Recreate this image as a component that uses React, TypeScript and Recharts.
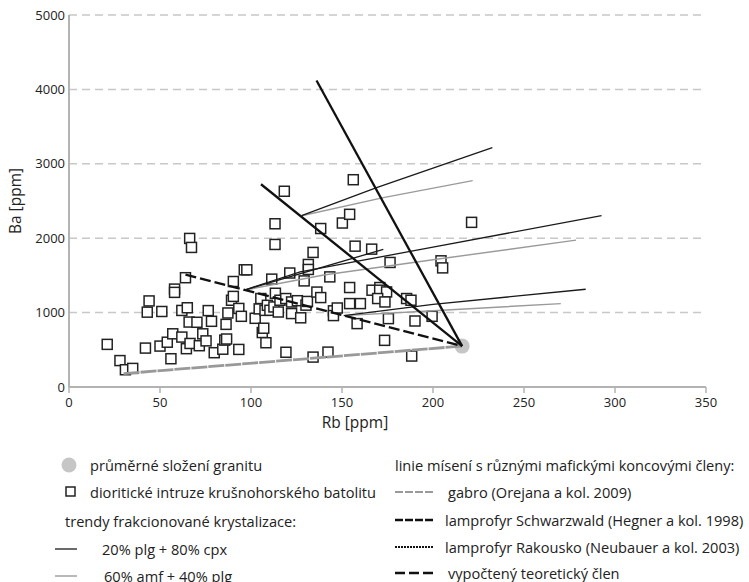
import React from 'react';
import { ScatterChart, Scatter, XAxis, YAxis, CartesianGrid } from 'recharts';

// Rb [ppm] vs Ba [ppm]
const xTicks = [0, 50, 100, 150, 200, 250, 300, 350];
const yTicks = [0, 1000, 2000, 3000, 4000, 5000];

const granite = [{ rb: 216, ba: 550 }];

// diorite intrusions, [Rb, Ba]
const diorites: [number, number][] = [
  [21, 573], [28, 355], [31, 232], [35, 250], [42, 523], [43, 1006], [44, 1157],
  [50, 550], [51, 1015], [54, 602], [56, 380], [57, 715], [58, 1316], [58, 1272],
  [62, 1029], [62, 671], [64, 1469], [65, 1065], [64.5, 515], [66, 873], [66.3, 1997],
  [67.3, 1876], [66.5, 585], [70.3, 870], [71.6, 555], [73.5, 715], [75.3, 620],
  [76.5, 1027], [78.3, 883], [79.8, 461], [84.5, 508], [85.6, 630], [86.6, 645],
  [86.3, 842], [87.3, 995], [89.3, 1166], [90.3, 1218], [90.3, 1418], [93.3, 1056],
  [93.3, 505], [94.7, 950], [96.3, 1575], [97.7, 1575], [102.3, 923], [104.5, 1050],
  [105.4, 1189], [106.2, 732], [107, 790], [108.2, 595], [107.7, 1030], [109, 1098],
  [110.4, 1031], [111.4, 1450], [112.6, 1076], [113.2, 2194], [113.2, 1916],
  [113.4, 1260], [115, 1008], [115.9, 1166], [118.3, 2631], [119.1, 1189], [119.2, 467],
  [121.3, 1532], [122.3, 1143], [122.3, 987], [125.5, 1160], [127.3, 930], [129.2, 1426],
  [130.2, 1100], [131, 1150], [131.5, 1647], [131.5, 1580], [134.1, 1809], [134.1, 402],
  [136.2, 1276], [138.3, 1202], [138.3, 2130], [142.3, 469], [143.3, 1480], [145.3, 1024],
  [145.3, 960], [147.4, 1062], [150.2, 2204], [154.2, 2321], [154.2, 1337], [154.2, 1121],
  [156.2, 2786], [157.2, 1893], [158.3, 852], [160.1, 1121], [166.3, 1853], [166.5, 1301],
  [170.8, 1337], [170.7, 1301], [174.5, 1278], [169.6, 1189], [173.6, 1143], [176.4, 1674],
  [175.5, 919], [173.4, 627], [185.5, 1189], [187.9, 1166], [188.3, 416], [190.1, 887],
  [199.5, 950], [204.4, 1696], [205.3, 1601], [221.2, 2213],
];

// mixing lines towards the granite
const gabroLine: [number, number][] = [[30, 180], [216, 550]];
const schwarzwaldLine: [number, number][] = [[136, 4120], [216, 550]];
const rakouskoLine: [number, number][] = [[105.5, 2725], [216, 550]];
const theoreticLine: [number, number][] = [[64, 1510], [216, 550]];

// fractional crystallisation trends
const cpxTrends: [number, number][][] = [
  [[127.8, 2302], [169, 2680], [232.6, 3218]],
  [[96, 1300], [127, 1547], [200, 1880], [292.6, 2302]],
  [[96, 1300], [172.7, 1850]],
  [[151, 960], [200, 1110], [283.9, 1314]],
];
const amfTrends: [number, number][][] = [
  [[127.8, 2302], [172.7, 2545], [221.8, 2774]],
  [[96, 1300], [140, 1505], [200, 1710], [278.6, 1974]],
  [[151, 960], [200, 1025], [270.2, 1121]],
];

const toPts = (arr: [number, number][]) => arr.map(([rb, ba]) => ({ rb, ba }));

const FONT = '"Open Sans", "DejaVu Sans", sans-serif';
const AXIS = '#b3b3b3';

const NoDot = () => <g />;

const SquareDot = (props: any) => {
  const { cx, cy } = props;
  if (cx == null || cy == null) return <g />;
  return <rect x={cx - 5} y={cy - 5} width={10} height={10} fill="#fff" stroke="#222" strokeWidth={1.5} />;
};

const GraniteDot = (props: any) => {
  const { cx, cy } = props;
  return <circle cx={cx} cy={cy} r={7.5} fill="#c6c6c6" />;
};

const lineSeries = (pts: [number, number][], key: string, stroke: string, width: number, dash?: string) => (
  <Scatter
    key={key}
    data={toPts(pts)}
    shape={NoDot}
    line={{ stroke, strokeWidth: width, strokeDasharray: dash }}
    isAnimationActive={false}
  />
);

const textStyle: React.CSSProperties = {
  position: 'absolute',
  fontFamily: FONT,
  fontSize: 14.6,
  color: '#222',
  whiteSpace: 'nowrap',
  lineHeight: '14px',
};

const Swatch = ({ len, stroke, width, dash }: { len: number; stroke: string; width: number; dash?: string }) => (
  <svg width={len} height={6} style={{ position: 'absolute' }}>
    <line x1={0} y1={3} x2={len} y2={3} stroke={stroke} strokeWidth={width} strokeDasharray={dash} />
  </svg>
);

export default function App() {
  return (
    <div style={{ position: 'absolute', left: 0, top: 0, width: 749, height: 582, background: '#fff', overflow: 'hidden' }}>
      <ScatterChart width={749} height={432} margin={{ top: 15, right: 43, bottom: 10, left: 0 }}>
        <CartesianGrid horizontal vertical={false} stroke="#c8c8c8" strokeWidth={1.5} strokeDasharray="8 5" />
        <XAxis
          type="number"
          dataKey="rb"
          domain={[0, 350]}
          ticks={xTicks}
          height={35}
          axisLine={{ stroke: AXIS, strokeWidth: 2 }}
          tickLine={{ stroke: AXIS, strokeWidth: 1.5 }}
          tickSize={6}
          tickMargin={5}
          tick={{ fontFamily: FONT, fontSize: 13, fill: '#222' }}
        />
        <YAxis
          type="number"
          dataKey="ba"
          domain={[0, 5000]}
          ticks={yTicks}
          width={69}
          axisLine={{ stroke: AXIS, strokeWidth: 2 }}
          tickLine={false}
          tickSize={0}
          tickMargin={4}
          tick={{ fontFamily: FONT, fontSize: 13, fill: '#222' }}
        />
        <Scatter data={toPts(diorites)} shape={SquareDot} isAnimationActive={false} />
        <Scatter data={granite} shape={GraniteDot} isAnimationActive={false} />
        {lineSeries(gabroLine, 'gabro', '#999', 2.8, '16 1')}
        {amfTrends.map((t, i) => lineSeries(t, 'amf' + i, '#9a9a9a', 1.4))}
        {cpxTrends.map((t, i) => lineSeries(t, 'cpx' + i, '#1a1a1a', 1.3))}
        {lineSeries(schwarzwaldLine, 'schw', '#111', 2.3)}
        {lineSeries(rakouskoLine, 'rak', '#111', 2.3)}
        {lineSeries(theoreticLine, 'teo', '#111', 2.4, '11 4')}
      </ScatterChart>

      <div style={{ ...textStyle, fontSize: 15.5, left: 355, top: 422, transform: 'translate(-50%, -50%)' }}>Rb [ppm]</div>
      <div style={{ ...textStyle, fontSize: 15.5, left: 15, top: 201, transform: 'translate(-50%, -50%) rotate(-90deg)' }}>Ba [ppm]</div>

      {/* left legend column */}
      <svg width={16} height={16} style={{ position: 'absolute', left: 61, top: 457 }}>
        <circle cx={8} cy={8} r={7.5} fill="#c6c6c6" />
      </svg>
      <div style={{ ...textStyle, left: 90, top: 458 }}>průměrné složení granitu</div>
      <svg width={12} height={12} style={{ position: 'absolute', left: 65, top: 486 }}>
        <rect x={1} y={1} width={9} height={9} fill="#fff" stroke="#222" strokeWidth={1.5} />
      </svg>
      <div style={{ ...textStyle, left: 90, top: 485 }}>dioritické intruze krušnohorského batolitu</div>
      <div style={{ ...textStyle, left: 65, top: 514 }}>trendy frakcionované krystalizace:</div>
      <div style={{ position: 'absolute', left: 55, top: 546 }}><Swatch len={22} stroke="#1a1a1a" width={1.3} /></div>
      <div style={{ ...textStyle, left: 102, top: 542 }}>20% plg + 80% cpx</div>
      <div style={{ position: 'absolute', left: 55, top: 573 }}><Swatch len={22} stroke="#9a9a9a" width={1.4} /></div>
      <div style={{ ...textStyle, left: 104, top: 569 }}>60% amf + 40% plg</div>

      {/* right legend column */}
      <div style={{ ...textStyle, left: 395, top: 458 }}>linie mísení s různými mafickými koncovými členy:</div>
      <div style={{ position: 'absolute', left: 395, top: 489 }}><Swatch len={38} stroke="#9a9a9a" width={2} dash="8 2" /></div>
      <div style={{ ...textStyle, left: 448, top: 485 }}>gabro (Orejana a kol. 2009)</div>
      <div style={{ position: 'absolute', left: 395, top: 517 }}><Swatch len={38} stroke="#111" width={2.6} dash="8 2" /></div>
      <div style={{ ...textStyle, left: 445, top: 513 }}>lamprofyr Schwarzwald (Hegner a kol. 1998)</div>
      <div style={{ position: 'absolute', left: 395, top: 544 }}><Swatch len={38} stroke="#111" width={2} dash="2 1" /></div>
      <div style={{ ...textStyle, left: 445, top: 540 }}>lamprofyr Rakousko (Neubauer a kol. 2003)</div>
      <div style={{ position: 'absolute', left: 395, top: 570 }}><Swatch len={38} stroke="#111" width={2.6} dash="10 4" /></div>
      <div style={{ ...textStyle, left: 448, top: 566 }}>vypočtený teoretický člen</div>
    </div>
  );
}
